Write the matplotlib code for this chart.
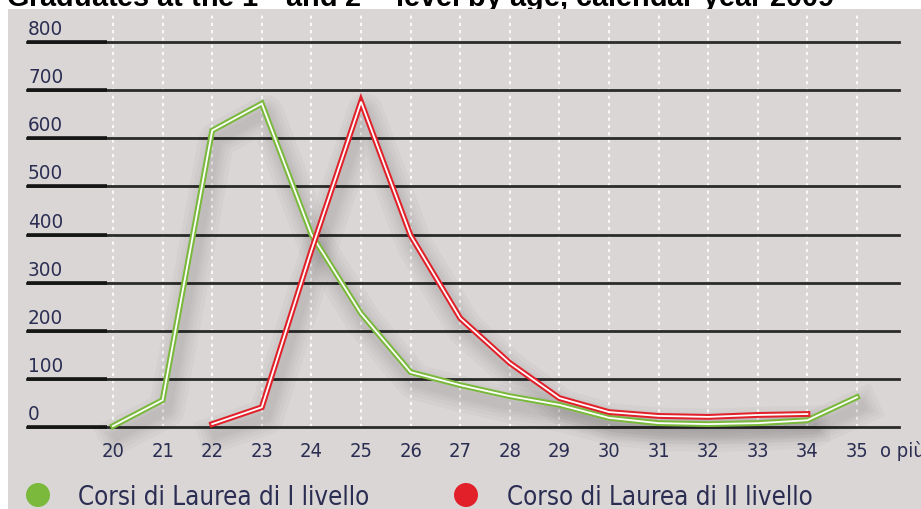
import matplotlib
matplotlib.use("Agg")
import matplotlib.pyplot as plt
import matplotlib.patheffects as pe
from matplotlib.patches import Rectangle, Circle
from matplotlib import font_manager
from matplotlib.font_manager import FontProperties

ages = [20, 21, 22, 23, 24, 25, 26, 27, 28, 29, 30, 31, 32, 33, 34, 35]
age_labels = ["20", "21", "22", "23", "24", "25", "26", "27", "28", "29", "30", "31", "32", "33", "34", "35"]
lvl1_ages = [20, 21, 22, 23, 24, 25, 26, 27, 28, 29, 30, 31, 32, 33, 34, 35]
lvl1 = [2, 56, 616, 672, 400, 236, 114, 87, 64, 46, 19, 8, 6, 8, 14, 62]
lvl2_ages = [22, 23, 24, 25, 26, 27, 28, 29, 30, 31, 32, 33, 34]
lvl2 = [6, 41, 367, 676, 398, 226, 133, 60, 31, 23, 21, 25, 27]
y_ticks = [0, 100, 200, 300, 400, 500, 600, 700, 800]
legend_names = ["Corsi di Laurea di I livello", "Corso di Laurea di II livello"]
title = "Graduates at the 1$^{\\mathrm{st}}$ and 2$^{\\mathrm{nd}}$ level by age, calendar year 2009"

# pick a narrow / condensed face if one is installed
cond_path = None
for f in font_manager.fontManager.ttflist:
    low = f.fname.lower()
    if ("narrow" in low or "condensed" in low) and "bold" not in low and "oblique" not in low \
            and "italic" not in low and ("liberation" in low or "dejavusans" in low):
        cond_path = f.fname
        if "liberation" in low:
            break
if cond_path:
    NF = lambda size: FontProperties(fname=cond_path, size=size)
else:
    NF = lambda size: FontProperties(family="Liberation Sans", size=size)

GRAY = "#d9d6d5"
GREEN = "#7ab93c"
RED = "#e2202a"
TXT = "#2b2d52"

W, H = 921, 509
fig = plt.figure(figsize=(W / 100, H / 100), dpi=100)
fig.patch.set_facecolor("white")
fig.patches.append(Rectangle((8 / W, 0), 1, 1 - 9 / H, transform=fig.transFigure,
                             facecolor=GRAY, edgecolor="none", zorder=-10))
renderer = fig.canvas.get_renderer()


def fit(t, target_w):
    bb = t.get_window_extent(renderer=renderer)
    t.set_fontsize(t.get_fontsize() * target_w / bb.width)


# axes placement: x 20 -> 113px, 35 -> 857px ; y 0 -> 427px, 800 -> 42px
px_per = (857 - 113) / 15
left_px, right_px = 27, 899
ax = fig.add_axes([left_px / W, (H - 427) / H, (right_px - left_px) / W, (427 - 42) / H])
ax.set_xlim(20 - (113 - left_px) / px_per, 35 + (right_px - 857) / px_per)
ax.set_ylim(0, 800)
ax.patch.set_alpha(0)
for s in ax.spines.values():
    s.set_visible(False)
ax.set_xticks([])
ax.set_yticks([])

# horizontal grid lines
for v in y_ticks:
    ax.axhline(v, color="#2b2b2b", lw=2.0, zorder=1, clip_on=False)
    ax.plot([ax.get_xlim()[0], 19.87], [v, v], color="#151515", lw=2.6, zorder=1.1,
            clip_on=False, solid_capstyle="butt")
    t = ax.annotate(str(v), xy=(0, v), xycoords=("axes fraction", "data"),
                    xytext=(1, 7), textcoords="offset pixels", ha="left", va="baseline",
                    fontproperties=NF(15), color=TXT)
    if v == 800:
        fit(t, 35)
        ysize = t.get_fontsize()
for t in ax.texts:
    t.set_fontsize(ysize)

# vertical white dotted lines
top_val = (427 - 12) / ((427 - 42) / 800)
for a in ages:
    ax.plot([a, a], [0, top_val], color="white", lw=1.5, ls=(0, (1.5, 2)), zorder=0.5,
            alpha=0.9, clip_on=False)

# x tick labels
xt = []
for a, lab in zip(ages, age_labels):
    xt.append(ax.annotate(lab, xy=(a, 0), xycoords="data", xytext=(0, -30),
                          textcoords="offset pixels", ha="center", va="baseline",
                          fontproperties=NF(16), color=TXT))
fit(xt[0], 23)
for t in xt:
    t.set_fontsize(xt[0].get_fontsize())
ax.annotate("o più", xy=(35, 0), xycoords="data", xytext=(23, -30), textcoords="offset pixels",
            ha="left", va="baseline", fontproperties=NF(xt[0].get_fontsize()), color=TXT,
            annotation_clip=False)

shadow = [pe.SimpleLineShadow(offset=(3, -7), shadow_color="#000000", alpha=0.025, linewidth=w)
          for w in (26, 20, 15, 11, 7)]

for xs, ys, col in ((lvl1_ages, lvl1, GREEN), (lvl2_ages, lvl2, RED)):
    ax.plot(xs, ys, color=col, lw=0.01, zorder=2, path_effects=shadow, clip_on=False)
for xs, ys, col, z in ((lvl1_ages, lvl1, GREEN, 3), (lvl2_ages, lvl2, RED, 4)):
    ax.plot(xs, ys, color=col, lw=4.2, zorder=z, clip_on=False, solid_joinstyle="miter")
    ax.plot(xs, ys, color="white", lw=1.3, zorder=z + 0.1, clip_on=False, solid_joinstyle="miter")

# legend
for cx, tx, col, name, tw in ((38, 78, GREEN, legend_names[0], 290),
                              (466, 507, RED, legend_names[1], 305)):
    fig.patches.append(Circle((cx, H - 495), 12, transform=None, facecolor=col,
                              edgecolor="none", zorder=5))
    t = fig.text(tx / W, (H - 505) / H, name, ha="left", va="baseline",
                 fontproperties=NF(21.5), color=TXT)
    fit(t, tw)

# clipped title (partly hidden under the grey panel)
tt = fig.text(6 / W, 1 - 7 / H, title, ha="left", va="baseline", fontsize=16,
              fontweight="bold", family="Liberation Sans", color="black", zorder=-20)
fit(tt, 832)

fig.savefig("out.png", dpi=100)
